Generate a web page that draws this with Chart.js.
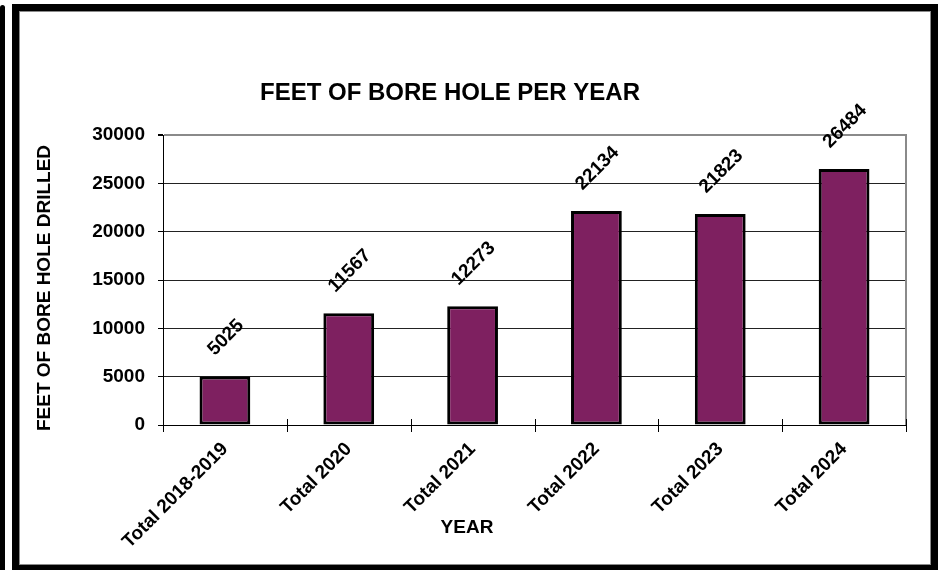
<!DOCTYPE html>
<html>
<head>
<meta charset="utf-8">
<title>Feet of Bore Hole per Year</title>
<script src="https://cdn.jsdelivr.net/npm/chart.js@4.4.1/dist/chart.umd.min.js"></script>
<style>
  html, body { margin: 0; padding: 0; background: #fff; }
  #wrap { position: relative; width: 945px; height: 570px; overflow: hidden; }
  #edge { position: absolute; left: 0; top: 5px; width: 5px; height: 570px; background: #000; border-radius: 3px 3px 0 0; }
  #frame { position: absolute; left: 12px; top: 4px; width: 912px; height: 554px; border: 7px solid #000; box-shadow: inset 0 0 0 1px #8a8a8a; }
  #chart { position: absolute; left: 0; top: 0; }
</style>
</head>
<body>
<div id="wrap">
  <div id="edge"></div>
  <div id="frame"></div>
  <canvas id="chart" width="945" height="570"></canvas>
</div>
<script>
// Footage drilled per reporting period
const categories = ['Total 2018-2019', 'Total 2020', 'Total 2021', 'Total 2022', 'Total 2023', 'Total 2024'];
const feetDrilled = [5025, 11567, 12273, 22134, 21823, 26484];

const chartTitle = 'FEET OF BORE HOLE PER YEAR';
const yAxisTitle = 'FEET OF BORE HOLE DRILLED';
const xAxisTitle = 'YEAR';

const FONT = "'Liberation Sans', Arial, Helvetica, sans-serif";
const BAR_COLOR = '#7e2060';

Chart.defaults.font.family = FONT;
Chart.defaults.color = '#000';

// Chart title and both axis titles
const titlesPlugin = {
  id: 'titles',
  afterDraw(chart) {
    const ctx = chart.ctx;
    ctx.save();
    ctx.fillStyle = '#000';
    ctx.textAlign = 'center';
    ctx.textBaseline = 'middle';
    ctx.font = 'bold 24px ' + FONT;
    ctx.fillText(chartTitle, 450, 93);
    ctx.font = 'bold 19px ' + FONT;
    ctx.fillText(xAxisTitle, 467, 528);
    ctx.translate(45, 288);
    ctx.rotate(-Math.PI / 2);
    ctx.fillText(yAxisTitle, 0, 0);
    ctx.restore();
  }
};

// Plot-area frame on the right plus category tick marks crossing the x axis
const frameTicksPlugin = {
  id: 'frameTicks',
  afterDraw(chart) {
    const { ctx, chartArea: a } = chart;
    const xs = chart.scales.x;
    ctx.save();
    ctx.strokeStyle = '#8a8a8a';
    ctx.lineWidth = 2;
    ctx.beginPath();
    ctx.moveTo(a.right, a.top - 1);
    ctx.lineTo(a.right, a.bottom);
    ctx.stroke();
    ctx.strokeStyle = '#000';
    ctx.lineWidth = 1;
    ctx.beginPath();
    for (let i = 0; i <= categories.length; i++) {
      const px = Math.round(xs.getPixelForValue(i - 0.5)) + 0.5;
      ctx.moveTo(px, a.bottom - 6);
      ctx.lineTo(px, a.bottom + 7);
    }
    ctx.stroke();
    ctx.restore();
  }
};

// Rotated value labels above each bar
const valueLabelsPlugin = {
  id: 'valueLabels',
  afterDatasetsDraw(chart) {
    const ctx = chart.ctx;
    const meta = chart.getDatasetMeta(0);
    ctx.save();
    ctx.font = 'bold 19px ' + FONT;
    ctx.fillStyle = '#000';
    ctx.textAlign = 'center';
    ctx.textBaseline = 'middle';
    meta.data.forEach((bar, i) => {
      const txt = String(feetDrilled[i]);
      const w = ctx.measureText(txt).width;
      const side = (w + 14) * Math.SQRT1_2;
      const cx = bar.x + 1;
      const cy = bar.y - 19 - side / 2;
      ctx.save();
      ctx.translate(cx, cy);
      ctx.rotate(-Math.PI / 4);
      ctx.fillText(txt, 0, 0);
      ctx.restore();
    });
    ctx.restore();
  }
};

new Chart(document.getElementById('chart'), {
  type: 'bar',
  data: {
    labels: categories,
    datasets: [{
      data: feetDrilled,
      backgroundColor: BAR_COLOR,
      borderColor: '#000',
      borderWidth: 3,
      borderSkipped: false,
      categoryPercentage: 1,
      barPercentage: 0.41
    }]
  },
  options: {
    responsive: false,
    animation: false,
    devicePixelRatio: 1,
    layout: { padding: { left: 0, top: 135, right: 39, bottom: 0 } },
    plugins: {
      legend: { display: false },
      title: { display: false },
      tooltip: { enabled: false }
    },
    scales: {
      x: {
        afterFit(scale) { scale.height = 145; },
        grid: { display: false, offset: true },
        border: { display: true, color: '#000', width: 1 },
        ticks: {
          minRotation: 45,
          maxRotation: 45,
          padding: 5,
          font: { size: 19, weight: 'bold' },
          color: '#000'
        }
      },
      y: {
        min: 0,
        max: 30000,
        afterFit(scale) { scale.width = 163; },
        ticks: {
          stepSize: 5000,
          padding: 13,
          font: { size: 19, weight: 'bold' },
          color: '#000',
          callback: (v) => String(v)
        },
        grid: {
          color: (c) => (c.tick && c.tick.value === 30000 ? '#8a8a8a' : '#222'),
          lineWidth: (c) => (c.tick && c.tick.value === 30000 ? 2 : 1),
          tickColor: '#000',
          tickLength: 5
        },
        border: { display: true, color: '#000', width: 1 }
      }
    }
  },
  plugins: [titlesPlugin, frameTicksPlugin, valueLabelsPlugin]
});
</script>
</body>
</html>
